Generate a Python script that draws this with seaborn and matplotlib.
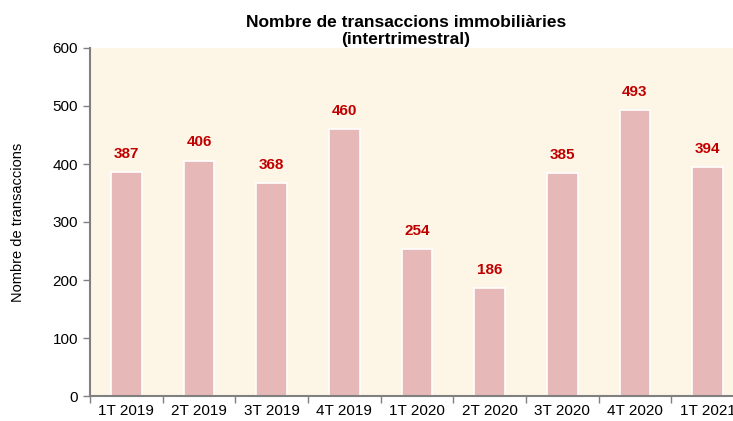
import numpy as np
import pandas as pd
import matplotlib
matplotlib.use('Agg')
import matplotlib.pyplot as plt
import seaborn as sns

# data
quarters = ['1T 2019', '2T 2019', '3T 2019', '4T 2019', '1T 2020',
            '2T 2020', '3T 2020', '4T 2020', '1T 2021']
transactions = [387, 406, 368, 460, 254, 186, 385, 493, 394]

df = pd.DataFrame({'quarter': quarters, 'n': transactions})

sns.set_style('white')
plt.rcParams['font.family'] = ['Liberation Sans', 'DejaVu Sans']
plt.rcParams['text.color'] = 'black'
plt.rcParams['xtick.color'] = 'black'
plt.rcParams['ytick.color'] = 'black'
plt.rcParams['axes.labelcolor'] = 'black'

fig = plt.figure(figsize=(7.33, 4.21), dpi=100)
# plot area runs past the right edge, like the original
ax = fig.add_axes([90/733, 25/421, 654/733, 348/421])
ax.set_facecolor('#FDF6E6')

sns.barplot(data=df, x='quarter', y='n', color='#E6B8B7', width=0.42,
            edgecolor='white', linewidth=1.2, saturation=1, ax=ax)

for i, v in enumerate(transactions):
    ax.text(i, v + 19, str(v), ha='center', va='bottom', color='#C00000',
            fontsize=11, fontweight='bold')

ax.set_ylim(0, 600)
ax.set_xlim(-0.5, len(quarters) - 0.5)
ax.set_yticks(range(0, 601, 100))
ax.set_xticks(np.arange(len(quarters)))
ax.set_xticklabels(quarters, fontsize=11)
ax.tick_params(axis='x', which='major', length=0, pad=6)
ax.set_xticks(np.arange(-0.5, len(quarters), 1), minor=True)
ax.tick_params(axis='x', which='minor', bottom=True, length=5,
               color='#808080', width=1)
ax.tick_params(axis='y', length=5, color='#808080', width=1, labelsize=11, left=True)
ax.set_xlabel('')
ax.set_ylabel('Nombre de transaccions', fontsize=10.5)
ax.yaxis.set_label_coords(-65/654, 0.5)

for s in ['top', 'right']:
    ax.spines[s].set_visible(False)
for s in ['left', 'bottom']:
    ax.spines[s].set_color('#808080')
    ax.spines[s].set_linewidth(1.5)

fig.text(406/733, 1 - 31/421, 'Nombre de transaccions immobiliàries\n(intertrimestral)',
         ha='center', va='center', fontsize=12.5, fontweight='bold', linespacing=1.15)

fig.savefig('out.png', dpi=100)
